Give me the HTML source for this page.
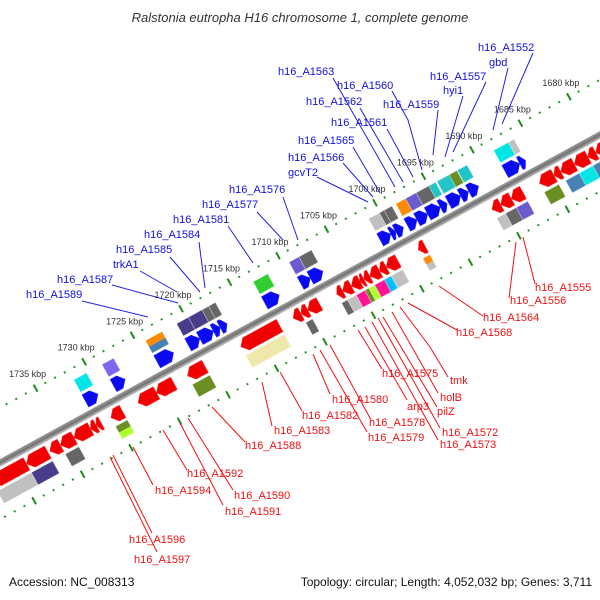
<!DOCTYPE html>
<html><head><meta charset="utf-8"><style>
html,body{margin:0;padding:0;background:#fff;}
svg{display:block;font-family:"Liberation Sans",sans-serif;}
.bl{fill:#1010e0;font-size:11px;}
.rl{fill:#f01010;font-size:11px;}
.bll{stroke:#2020e0;stroke-width:1;}
.rll{stroke:#f01010;stroke-width:1;}
</style></head><body>
<svg id="chart" width="600" height="600" viewBox="0 0 600 600" xmlns="http://www.w3.org/2000/svg">
<defs>
<linearGradient id="bb" x1="0" y1="0" x2="0" y2="1">
<stop offset="0" stop-color="#c8c8c8"/><stop offset="0.5" stop-color="#707070"/><stop offset="1" stop-color="#a0a0a0"/>
</linearGradient>
</defs>
<rect width="600" height="600" fill="#fff"/>
<text x="300" y="22" text-anchor="middle" font-size="13" font-style="italic" fill="#333">Ralstonia eutropha H16 chromosome 1, complete genome</text>
<g id="track" transform="translate(397.5,244) rotate(151.34)"></g>
<g id="ticklabels"></g>
<g>
<line class="bll" x1="533" y1="53" x2="502" y2="124"/><text class="bl" x="478" y="51">h16_A1552</text>
<line class="bll" x1="508" y1="68" x2="493" y2="130"/><text class="bl" x="489" y="66">gbd</text>
<line class="bll" x1="486" y1="82" x2="453" y2="152"/><text class="bl" x="430" y="80">h16_A1557</text>
<line class="bll" x1="463" y1="96" x2="445" y2="157"/><text class="bl" x="443" y="94">hyi1</text>
<line class="bll" x1="438" y1="110" x2="433" y2="155"/><text class="bl" x="383" y="108">h16_A1559</text>
<polyline class="bll" fill="none" points="392,91 408,120 422,170"/><text class="bl" x="337" y="89">h16_A1560</text>
<line class="bll" x1="333" y1="78" x2="395" y2="187"/><text class="bl" x="278" y="75">h16_A1563</text>
<line class="bll" x1="360" y1="108" x2="403" y2="182"/><text class="bl" x="306" y="105">h16_A1562</text>
<line class="bll" x1="387" y1="129" x2="413" y2="177"/><text class="bl" x="331" y="126">h16_A1561</text>
<line class="bll" x1="353" y1="147" x2="380" y2="193"/><text class="bl" x="298" y="144">h16_A1565</text>
<line class="bll" x1="343" y1="163" x2="373" y2="197"/><text class="bl" x="288" y="161">h16_A1566</text>
<line class="bll" x1="317" y1="177" x2="368" y2="202"/><text class="bl" x="288" y="176">gcvT2</text>
<line class="bll" x1="283" y1="197" x2="298" y2="240"/><text class="bl" x="229" y="193">h16_A1576</text>
<line class="bll" x1="257" y1="212" x2="283" y2="240"/><text class="bl" x="202" y="208">h16_A1577</text>
<line class="bll" x1="228" y1="226" x2="253" y2="263"/><text class="bl" x="173" y="223">h16_A1581</text>
<line class="bll" x1="199" y1="242" x2="205" y2="288"/><text class="bl" x="144" y="238">h16_A1584</text>
<line class="bll" x1="170" y1="257" x2="200" y2="292"/><text class="bl" x="116" y="253">h16_A1585</text>
<line class="bll" x1="140" y1="271" x2="177" y2="292"/><text class="bl" x="113" y="268">trkA1</text>
<line class="bll" x1="112" y1="285" x2="178" y2="303"/><text class="bl" x="57" y="283">h16_A1587</text>
<line class="bll" x1="82" y1="301" x2="148" y2="317"/><text class="bl" x="26" y="298">h16_A1589</text>
</g>
<g>
<line class="rll" x1="523" y1="237" x2="535" y2="284"/><text class="rl" x="535" y="291">h16_A1555</text>
<line class="rll" x1="516" y1="242" x2="509" y2="298"/><text class="rl" x="510" y="304">h16_A1556</text>
<line class="rll" x1="439" y1="286" x2="483" y2="316"/><text class="rl" x="483" y="321">h16_A1564</text>
<line class="rll" x1="408" y1="303" x2="457" y2="330"/><text class="rl" x="456" y="336">h16_A1568</text>
<polyline class="rll" fill="none" points="400,307 430,347 448,377"/><text class="rl" x="450" y="384">tmk</text>
<line class="rll" x1="392" y1="312" x2="438" y2="393"/><text class="rl" x="440" y="401">holB</text>
<line class="rll" x1="383" y1="317" x2="437" y2="407"/><text class="rl" x="437" y="415">pilZ</text>
<line class="rll" x1="378" y1="318" x2="440" y2="428"/><text class="rl" x="442" y="436">h16_A1572</text>
<line class="rll" x1="372" y1="322" x2="438" y2="440"/><text class="rl" x="440" y="448">h16_A1573</text>
<line class="rll" x1="365" y1="327" x2="407" y2="400"/><text class="rl" x="407" y="410">arp3</text>
<line class="rll" x1="358" y1="330" x2="382" y2="369"/><text class="rl" x="382" y="377">h16_A1575</text>
<line class="rll" x1="330" y1="345" x2="370" y2="418"/><text class="rl" x="369" y="426">h16_A1578</text>
<line class="rll" x1="320" y1="350" x2="367" y2="432"/><text class="rl" x="368" y="441">h16_A1579</text>
<line class="rll" x1="313" y1="354" x2="330" y2="394"/><text class="rl" x="332" y="403">h16_A1580</text>
<line class="rll" x1="280" y1="372" x2="302" y2="411"/><text class="rl" x="302" y="419">h16_A1582</text>
<line class="rll" x1="262" y1="382" x2="272" y2="426"/><text class="rl" x="274" y="434">h16_A1583</text>
<line class="rll" x1="212" y1="407" x2="245" y2="442"/><text class="rl" x="245" y="449">h16_A1588</text>
<line class="rll" x1="163" y1="430" x2="187" y2="470"/><text class="rl" x="187" y="477">h16_A1592</text>
<line class="rll" x1="188" y1="418" x2="233" y2="490"/><text class="rl" x="234" y="499">h16_A1590</text>
<line class="rll" x1="133" y1="447" x2="153" y2="485"/><text class="rl" x="155" y="494">h16_A1594</text>
<line class="rll" x1="180" y1="423" x2="223" y2="505"/><text class="rl" x="225" y="515">h16_A1591</text>
<line class="rll" x1="113" y1="455" x2="152" y2="533"/><text class="rl" x="129" y="543">h16_A1596</text>
<line class="rll" x1="110" y1="457" x2="157" y2="552"/><text class="rl" x="134" y="563">h16_A1597</text>
</g>
<text x="9" y="586" font-size="12" fill="#111">Accession: NC_008313</text>
<text x="592" y="586" font-size="12" fill="#111" text-anchor="end">Topology: circular; Length: 4,052,032 bp; Genes: 3,711</text>
</svg>
<script>
// forward strand genes (kbp)
const fwdStart = [1686.2,1686.8,1691.05,1692.1,1692.9,1694.3,1695.0,1696.3,1697.4,1698.8,1699.6,1700.1,1707.1,1708.4,1711.6,1717.0,1717.7,1718.4,1719.8,1722.5,1727.5,1730.3];
const fwdEnd   = [1686.8,1688.3,1692.05,1692.9,1694.15,1695.0,1696.3,1697.4,1698.4,1699.6,1700.1,1701.2,1708.4,1709.4,1713.1,1717.7,1718.4,1719.8,1721.0,1724.2,1728.7,1731.6];
const fwdCog   = ['lg','cy','dt','ol','dt','dt','dg','sl','or','dg','dg','lg','dg','sl','li','dg','dg','ds','ds','or','ms','cy'];
const fwdCog2  = ['','','','','','','','','','','','','','','','','','','','st','',''];
// reverse strand genes (kbp)
const revStart = [1678.0,1680.3,1681.1,1682.5,1683.9,1684.6,1687.8,1689.0,1690.1,1697.9,1700.7,1701.9,1702.6,1703.6,1704.2,1704.6,1705.5,1706.4,1708.8,1710.0,1710.7,1712.9,1720.6,1723.8,1725.6,1729.1,1731.3,1731.8,1732.4,1734.1,1735.5,1736.8,1739.0];
const revEnd   = [1680.3,1681.1,1682.5,1683.9,1684.6,1686.1,1689.0,1690.1,1691.0,1698.6,1701.9,1702.6,1703.6,1704.2,1704.6,1705.5,1706.4,1707.0,1710.0,1710.7,1711.5,1716.9,1722.4,1725.6,1727.5,1730.3,1731.8,1732.4,1734.1,1735.5,1736.6,1739.0,1742.5];
const revCog   = ['st','st','cy','st','','ol','sl','dg','lg','or','lg','sk','pk','gy','ol','pk','lg','dg','','dg','','kh','ol','','','ol','','','','dg','','ds','lg'];
const revCog2  = ['','','','','','','','','','lg','','','','','','','','','','','','','','','','gy','','','','','','',''];
// axis ticks
const tickLabels = [1680,1685,1690,1695,1700,1705,1710,1715,1720,1725,1730,1735];
const dotRangeStart = 1672, dotRangeEnd = 1746;

const colorMap = {lg:'#c0c0c0',cy:'#00e5e5',dt:'#22c4c8',ol:'#6b8e23',dg:'#666666',sl:'#6a5acd',or:'#ff8c00',li:'#32cd32',ds:'#483d8b',st:'#4682b4',ms:'#7b68ee',sk:'#00bfff',pk:'#ff1493',gy:'#adff2f',kh:'#eee8aa'};
const K0 = 1700, PX = 11.05;
const NS = 'http://www.w3.org/2000/svg';
const track = document.getElementById('track');
const tl = document.getElementById('ticklabels');
function X(k){ return (k - K0) * PX; }
function screen(k, v){
  const a = 151.34 * Math.PI/180;
  const lx = X(k), ly = v;
  return [397.5 + lx*Math.cos(a) - ly*Math.sin(a), 244 + lx*Math.sin(a) + ly*Math.cos(a)];
}
function mk(tag, attrs){ const e = document.createElementNS(NS, tag); for (const k in attrs) e.setAttribute(k, attrs[k]); return e; }

// backbone
const bb = mk('rect', {x:-450, y:-5, width:1000, height:7, fill:'url(#bb)'});


track.appendChild(bb);

// dotted scale lines
const UP = 47, LO = -51;
for (let k = dotRangeStart; k <= dotRangeEnd; k++) {
  [UP, LO].forEach(v => {
    const x = X(k);
    let e;
    if (k % 5 === 0) {
      e = mk('rect', {x:x-1, y:v-4, width:2, height:8, fill:'#1e8c1e'});
      
    } else if (k % 5 === 2 || k % 5 === 3) {
      e = mk('rect', {x:x-1, y:v-1, width:2, height:2, fill:'#2a962a'});
      
    } else {
      e = mk('rect', {x:x-1, y:v-1, width:2, height:2, fill:'#2a962a'});
      
    }
    
    track.appendChild(e);
  });
}
tickLabels.forEach(k => {
  const p = screen(k, UP);
  const t = mk('text', {x:(p[0]-8).toFixed(1), y:(p[1]-11).toFixed(1), 'text-anchor':'middle', 'font-size':'9', fill:'#333'});
  t.textContent = k + ' kbp';
  
  
  tl.appendChild(t);
});

function box(k1, k2, y1, y2, c, c2){
  const x = X(k1), w = X(k2) - X(k1);
  if (c2) {
    const h = (y2 - y1)/2;
    const b1 = mk('rect', {x:x, y:y1+h, width:w, height:h, fill:colorMap[c]});
    
    
    track.appendChild(b1);
    const b2 = mk('rect', {x:x, y:y1, width:w, height:h, fill:colorMap[c2]});
    
    
    track.appendChild(b2);
  } else {
    const b = mk('rect', {x:x, y:y1, width:w, height:y2-y1, fill:colorMap[c], stroke:'rgba(255,255,255,0.35)', 'stroke-width':0.8});
    
    
    track.appendChild(b);
  }
}

// forward genes: blue arrows, tip toward lower kbp
for (let i = 0; i < fwdStart.length; i++) {
  const x1 = X(fwdStart[i]), x2 = X(fwdEnd[i]);
  const h = Math.min(6, (x2-x1)*0.6);
  const y1 = 5, y2 = 19, ym = 12;
  const p = mk('polygon', {points:`${x1},${ym} ${x1+h},${y1} ${x2},${y1} ${x2},${y2} ${x1+h},${y2}`, fill:'#0a0af0', stroke:'#2a2aff', 'stroke-width':0.5});
  
  
  track.appendChild(p);
  if (fwdCog[i]) box(fwdStart[i], fwdEnd[i], 22, 36, fwdCog[i], fwdCog2[i]);
}
// reverse genes: red arrows, tip toward higher kbp
for (let i = 0; i < revStart.length; i++) {
  const x1 = X(revStart[i]), x2 = X(revEnd[i]);
  const h = Math.min(6, (x2-x1)*0.6);
  const y1 = -22, y2 = -8, ym = -15;
  const p = mk('polygon', {points:`${x2},${ym} ${x2-h},${y1} ${x1},${y1} ${x1},${y2} ${x2-h},${y2}`, fill:'#f00000', stroke:'#ff3030', 'stroke-width':0.5});
  
  
  track.appendChild(p);
  if (revCog[i]) box(revStart[i], revEnd[i], -39, -25, revCog[i], revCog2[i]);
}
</script>
</body></html>
